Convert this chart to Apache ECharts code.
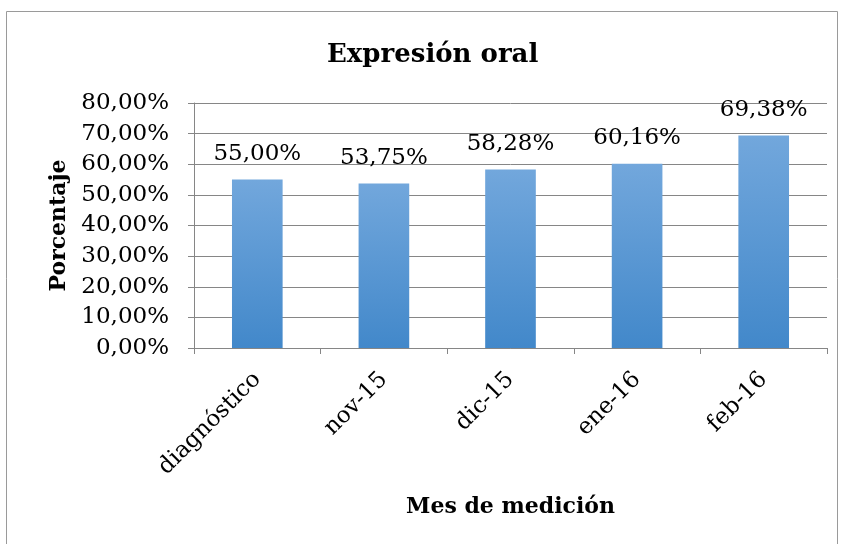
<!DOCTYPE html>
<html>
<head>
<meta charset="utf-8">
<script src="https://cdn.jsdelivr.net/npm/echarts@6/dist/echarts.min.js"></script>
<style>
  html, body { margin: 0; padding: 0; background: #fff; }
  #chart { width: 844px; height: 544px; }
</style>
</head>
<body>
<div id="chart"></div>
<script>
var categories = ['diagnóstico', 'nov-15', 'dic-15', 'ene-16', 'feb-16']
var values = [55.00, 53.75, 58.28, 60.16, 69.38]
var yTicks = [0, 10, 20, 30, 40, 50, 60, 70, 80]

function pct(v) {
  return v.toFixed(2).replace('.', ',') + '%'
}

var chart = echarts.init(document.getElementById('chart'))
var font = 'DejaVu Serif'

chart.setOption({
  animation: false,
  title: {
    text: 'Expresión oral',
    left: 322,
    top: 37,
    textStyle: { fontFamily: font, fontWeight: 'bold', fontSize: 26, color: '#000' }
  },
  graphic: [{
    type: 'rect',
    shape: { x: 6.5, y: 11.5, width: 831, height: 560 },
    style: { fill: 'none', stroke: '#9a9a9a', lineWidth: 1 }
  }],
  grid: { left: 194, right: 17, top: 103, bottom: 196 },
  xAxis: {
    type: 'category',
    data: categories,
    name: 'Mes de medición',
    nameLocation: 'middle',
    nameGap: 148,
    nameTextStyle: { fontFamily: font, fontWeight: 'bold', fontSize: 22, color: '#000' },
    axisLine: { lineStyle: { color: '#868686' } },
    axisTick: { show: true, length: 6, lineStyle: { color: '#868686' } },
    axisLabel: { rotate: 45, margin: 28, fontFamily: font, fontSize: 23, color: '#000' }
  },
  yAxis: {
    type: 'value',
    min: yTicks[0],
    max: yTicks[yTicks.length - 1],
    interval: 10,
    name: 'Porcentaje',
    nameLocation: 'middle',
    nameGap: 122,
    nameTextStyle: { fontFamily: font, fontWeight: 'bold', fontSize: 22, color: '#000' },
    axisLine: { show: true, lineStyle: { color: '#868686' } },
    axisTick: { show: true, length: 6, lineStyle: { color: '#868686' } },
    splitLine: { lineStyle: { color: '#868686' } },
    axisLabel: {
      margin: 25,
      fontFamily: font, fontSize: 23, color: '#000',
      formatter: function (v) { return pct(v) }
    }
  },
  series: [{
    type: 'bar',
    data: values,
    barWidth: '40%',
    itemStyle: {
      color: new echarts.graphic.LinearGradient(0, 0, 0, 1, [
        { offset: 0, color: '#72a7dc' },
        { offset: 1, color: '#4288ca' }
      ])
    },
    label: {
      show: true,
      position: 'top',
      distance: 14,
      fontFamily: font, fontSize: 23, color: '#000',
      formatter: function (p) { return pct(p.value) }
    }
  }]
})
</script>
</body>
</html>
